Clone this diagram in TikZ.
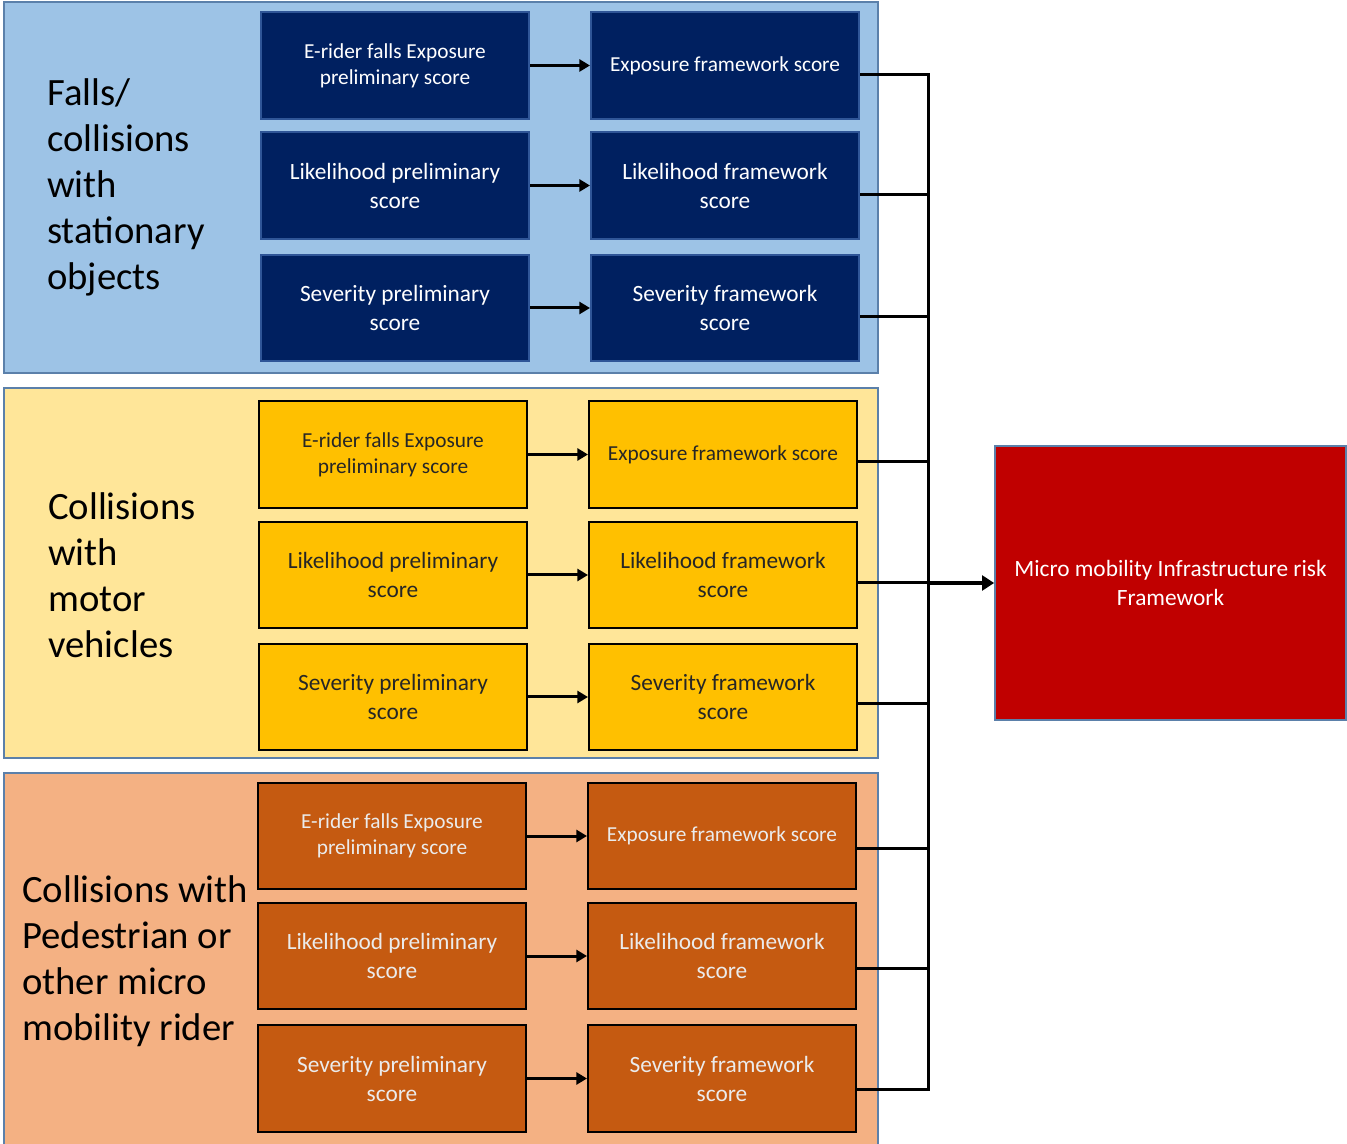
\documentclass[tikz,border=0pt]{standalone}
\usepackage{fontspec}
\setmainfont{Carlito}
\usetikzlibrary{arrows.meta,calc}
\definecolor{bluepanel}{HTML}{9DC3E6}
\definecolor{yellowpanel}{HTML}{FFE699}
\definecolor{orangepanel}{HTML}{F4B183}
\definecolor{panelborder}{HTML}{5B80AA}
\definecolor{navybox}{HTML}{002060}
\definecolor{navyborder}{HTML}{2F5597}
\definecolor{goldbox}{HTML}{FFC000}
\definecolor{rustbox}{HTML}{C55A11}
\definecolor{redbox}{HTML}{C00000}
\begin{document}
\begin{tikzpicture}[x=0.75pt,y=-0.75pt,
  panel/.style={line width=1.5pt,draw=panelborder},
  box/.style={minimum width=201pt,minimum height=80pt,inner sep=2pt,align=center,line width=1.5pt,font=\fontsize{17.5}{21.75}\selectfont},
  smalltext/.style={font=\fontsize{16}{19.5}\selectfont},
  navy/.style={box,fill=navybox,draw=navyborder,text=white},
  gold/.style={box,fill=goldbox,draw=black,text=black!85},
  rust/.style={box,fill=rustbox,draw=black,text=white!92!black},
  title/.style={anchor=west,align=left,inner sep=0pt,font=\fontsize{29}{34.5}\selectfont,text=black},
  arr/.style={line width=2.25pt,-{Triangle[length=8pt,width=9pt]}},
  conn/.style={line width=2.25pt,line join=miter},
  bigarr/.style={line width=3pt,-{Triangle[length=9pt,width=11pt]}}
]
\useasboundingbox (0,0) rectangle (1347,1144);
% panels
\path[panel,fill=bluepanel] (4,2) rectangle (878,373);
\path[panel,fill=yellowpanel] (4,388) rectangle (878,758);
\path[panel,fill=orangepanel] (4,773) rectangle (878,1146);

% titles
\node[title] (t1) at (47,187.5) {Falls/\\collisions\\with\\stationary\\objects};
\node[title] (t2) at (48,575.5) {Collisions\\with\\motor\\vehicles};
\node[title] (t3) at (22,961) {Collisions with\\Pedestrian or\\other micro\\mobility rider};

% blue boxes
\node[navy,smalltext] (bl1) at (395,65.5) {E-rider falls Exposure\\preliminary score};
\node[navy] (bl2) at (395,185.5) {Likelihood preliminary\\score};
\node[navy] (bl3) at (395,308) {Severity preliminary\\score};
\node[navy,smalltext] (br1) at (725,65.5) {Exposure framework score};
\node[navy] (br2) at (725,185.5) {Likelihood framework\\score};
\node[navy] (br3) at (725,308) {Severity framework\\score};

% yellow boxes
\node[gold,smalltext] (yl1) at (393,454.5) {E-rider falls Exposure\\preliminary score};
\node[gold] (yl2) at (393,575) {Likelihood preliminary\\score};
\node[gold] (yl3) at (393,697) {Severity preliminary\\score};
\node[gold,smalltext] (yr1) at (723,454.5) {Exposure framework score};
\node[gold] (yr2) at (723,575) {Likelihood framework\\score};
\node[gold] (yr3) at (723,697) {Severity framework\\score};

% orange boxes
\node[rust,smalltext] (ol1) at (392,836) {E-rider falls Exposure\\preliminary score};
\node[rust] (ol2) at (392,956) {Likelihood preliminary\\score};
\node[rust] (ol3) at (392,1078.5) {Severity preliminary\\score};
\node[rust,smalltext] (or1) at (722,836) {Exposure framework score};
\node[rust] (or2) at (722,956) {Likelihood framework\\score};
\node[rust] (or3) at (722,1078.5) {Severity framework\\score};

% red box
\node[minimum width=263pt,minimum height=205.5pt,fill=redbox,draw=panelborder,line width=1.5pt,text=white,align=center,font=\fontsize{17.5}{21.75}\selectfont] (red) at (1170.5,583) {Micro mobility Infrastructure risk\\Framework};

% arrows left -> right
\foreach \a/\b in {bl1/br1,bl2/br2,bl3/br3,yl1/yr1,yl2/yr2,yl3/yr3,ol1/or1,ol2/or2,ol3/or3}
  \draw[arr] (\a.east) -- (\b.west);

% bus
\coordinate (bus) at (928,583);
\draw[conn] ([yshift=-6.4pt]br1.east) -| (bus);
\draw[conn] ([yshift=-6.4pt]br2.east) -| (bus);
\draw[conn] ([yshift=-6.75pt]br3.east) -| (bus);
\draw[conn] ([yshift=-5pt]yr1.east) -| (bus);
\draw[conn] ([yshift=-6pt]yr2.east) -| (bus);
\draw[conn] ([yshift=-5.25pt]yr3.east) -| (bus);
\draw[conn] ([yshift=-9pt]or1.east) -| (bus);
\draw[conn] ([yshift=-9pt]or2.east) -| (bus);
\draw[conn] ([yshift=-8.6pt]or3.east) -| (bus);
\draw[bigarr] (bus) -- (red.west);
\end{tikzpicture}
\end{document}
